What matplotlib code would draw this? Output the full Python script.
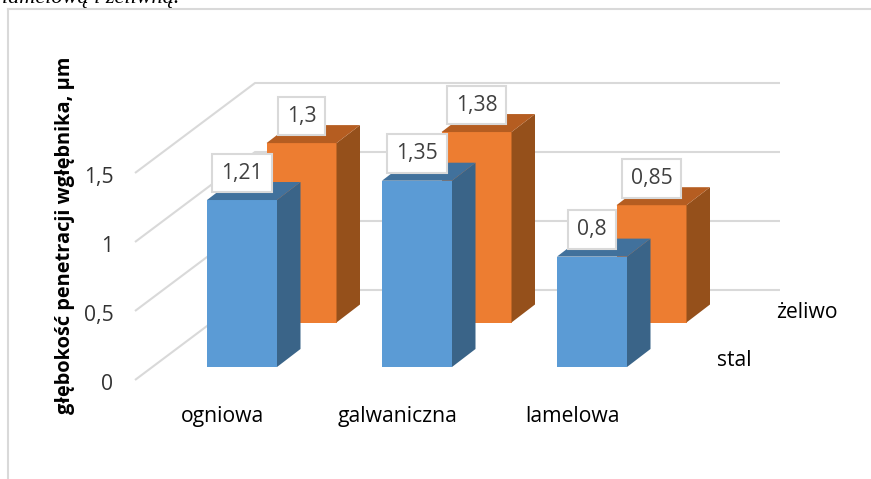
import matplotlib
matplotlib.use("Agg")
import matplotlib.pyplot as plt
from matplotlib.patches import Polygon
from matplotlib.lines import Line2D
from matplotlib.transforms import ScaledTranslation

categories = ["ogniowa", "galwaniczna", "lamelowa"]
series_names = ["stal", "żeliwo"]
stal = [1.21, 1.35, 0.8]
zeliwo = [1.3, 1.38, 0.85]
stal_labels = ["1,21", "1,35", "0,8"]
zeliwo_labels = ["1,3", "1,38", "0,85"]
value_ticks = [0, 0.5, 1, 1.5]
value_tick_labels = ["0", "0,5", "1", "1,5"]

W, H = 871, 479
PX_X = 175.0   # pixels per category
PX_Y = 138.0   # pixels per unit of depth
FONT = "Open Sans"
FS = 15.2
GRID = "#d9d9d9"

fig = plt.figure(figsize=(W / 100, H / 100), dpi=100)
fig.patch.set_facecolor("white")

# Axes spanning the front edge of the floor up to the plot's top
left, right, base, top = 135, 780, 380, 60
ax = fig.add_axes([left / W, (H - base) / H, (right - left) / W, (base - top) / H])
x0 = (left - 242) / PX_X
ax.set_xlim(x0, x0 + (right - left) / PX_X)
ax.set_ylim(0, (base - top) / PX_Y)
ax.patch.set_alpha(0)
for s in ax.spines.values():
    s.set_visible(False)

# Oblique projection offsets
wall_dx, wall_dy = 120 / PX_X, 90 / PX_Y
bar_w = 70 / PX_X
depth_dx, depth_dy = 23.5 / PX_X, 18 / PX_Y

# Walls: slanted side gridlines joined to horizontal back gridlines
for v in value_ticks:
    ax.plot([x0, x0 + wall_dx, x0 + (right - left) / PX_X], [v, v + wall_dy, v + wall_dy],
            color=GRID, lw=1.5, solid_capstyle="butt", clip_on=False, zorder=1)


def draw_series(values, dx, bottom, front, side, cap, z):
    xs = [i + dx for i in range(len(values))]
    ax.bar(xs, values, width=bar_w, bottom=bottom, color=front, linewidth=0, zorder=z)
    for x, v in zip(xs, values):
        t = bottom + v
        xl, xr = x - bar_w / 2, x + bar_w / 2
        ax.add_patch(Polygon([(xr, bottom), (xr + depth_dx, bottom + depth_dy),
                              (xr + depth_dx, t + depth_dy), (xr, t)],
                             closed=True, fc=side, ec="none", zorder=z))
        ax.add_patch(Polygon([(xl, t), (xl + depth_dx, t + depth_dy),
                              (xr + depth_dx, t + depth_dy), (xr, t)],
                             closed=True, fc=cap, ec="none", zorder=z))
    return xs


offset_x = 59.5 / PX_X
back_base = (base - 322.5) / PX_Y
front_base = (base - 367) / PX_Y

x_back = draw_series(zeliwo, offset_x, back_base, "#ed7d31", "#95501b", "#b55d21", 3)
x_front = draw_series(stal, 0, front_base, "#5b9bd5", "#3a6488", "#41719c", 4)


def value_box(x, y, text, z):
    ax.annotate(text, (x, y), xytext=(0, 27), textcoords="offset pixels",
                ha="center", va="center", fontsize=FS, family=FONT, color="#404040",
                bbox=dict(boxstyle="square,pad=0.42", fc="white", ec=GRID, lw=1.5),
                zorder=z, annotation_clip=False)


for x, v, lab in zip(x_back, zeliwo, zeliwo_labels):
    value_box(x, back_base + v, lab, 5)
for x, v, lab in zip(x_front, stal, stal_labels):
    value_box(x, front_base + v, lab, 6)

# Value axis on the front edge, its labels nudged just below the gridline starts
ax.set_yticks(value_ticks, value_tick_labels, family=FONT, fontsize=FS, color="#333333")
ax.tick_params(axis="y", length=0, pad=15.5)
nudge = ScaledTranslation(0, -2 / 100, fig.dpi_scale_trans)
for lab in ax.get_yticklabels():
    lab.set_transform(lab.get_transform() + nudge)

# Category labels sit under the front row
ax.set_xticks([i - 0.11 for i in range(len(categories))], categories,
              family=FONT, fontsize=FS, color="black")
ax.tick_params(axis="x", length=0, pad=18.5)

# Series names along the depth axis
fig.text(807 / W, 1 - 313 / H, series_names[1], family=FONT, fontsize=FS,
         ha="center", va="center", color="black")
fig.text(734 / W, 1 - 360 / H, series_names[0], family=FONT, fontsize=FS,
         ha="center", va="center", color="black")

fig.text(65 / W, 1 - 235 / H, "głębokość penetracji wgłębnika, µm", rotation=90,
         family=FONT, fontweight="bold", fontsize=14.4, ha="center", va="center", color="black")

# Chart frame and the caption line running above it
fig.add_artist(Line2D([8 / W, 8 / W], [0, 1 - 9 / H], color=GRID, lw=1.5))
fig.add_artist(Line2D([8 / W, 1], [1 - 9 / H, 1 - 9 / H], color=GRID, lw=1.5))
fig.text(2 / W, 1 - 2.5 / H, "lamelową i żeliwną.", family="Liberation Serif", style="italic",
         fontsize=16, color="black", ha="left", va="baseline")

fig.savefig("out.png", dpi=100)
